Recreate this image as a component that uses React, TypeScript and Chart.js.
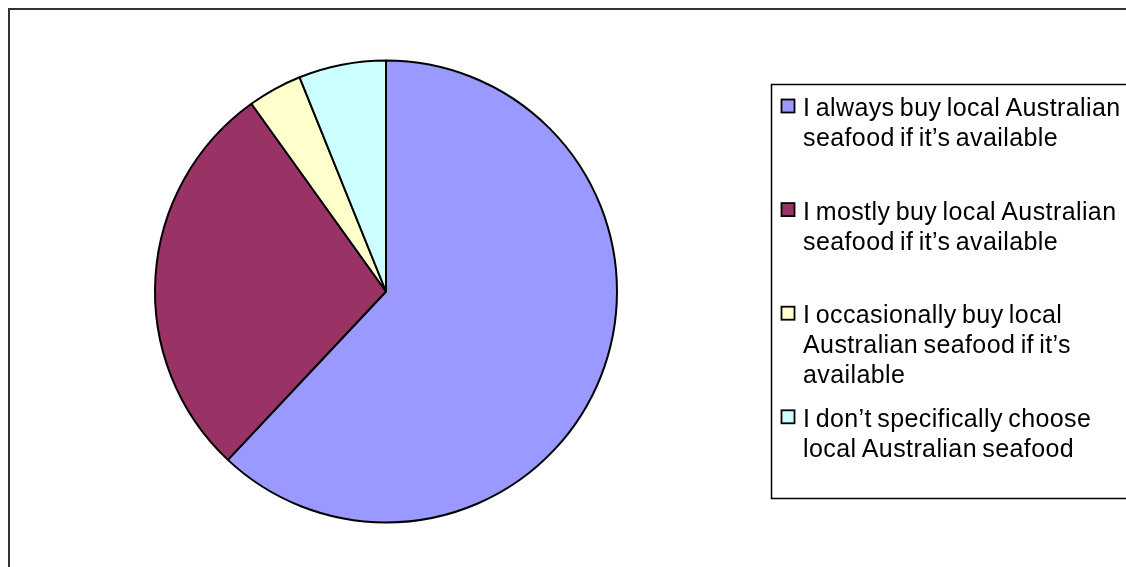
import React, { useEffect, useRef } from "react";
import { Chart, registerables } from "chart.js";

Chart.register(...registerables);

const categories = [
  "I always buy local Australian seafood if it’s available",
  "I mostly buy local Australian seafood if it’s available",
  "I occasionally buy local Australian seafood if it’s available",
  "I don’t specifically choose local Australian seafood",
];
const legendLines = [
  ["I always buy local Australian", "seafood if it’s available"],
  ["I mostly buy local Australian", "seafood if it’s available"],
  ["I occasionally buy local", "Australian seafood if it’s", "available"],
  ["I don’t specifically choose", "local Australian seafood"],
];
const values = [62.0, 28.1, 3.8, 6.1];
const colors = ["#9999FF", "#993366", "#FFFFCC", "#CCFFFF"];

const W = 1126;
const H = 567;

const framePlugin = {
  id: "frame",
  beforeDraw(chart: any) {
    const ctx = chart.ctx as CanvasRenderingContext2D;
    ctx.save();
    ctx.fillStyle = "#ffffff";
    ctx.fillRect(0, 0, chart.width, chart.height);
    // outer chart border
    ctx.strokeStyle = "#333333";
    ctx.lineWidth = 2;
    ctx.beginPath();
    ctx.moveTo(9, chart.height + 5);
    ctx.lineTo(9, 9);
    ctx.lineTo(chart.width + 5, 9);
    ctx.stroke();
    // legend box
    ctx.strokeStyle = "#000000";
    ctx.lineWidth = 1.5;
    ctx.strokeRect(771.5, 84.5, 420, 414);
    ctx.restore();
  },
  afterDraw(chart: any) {
    const ctx = chart.ctx as CanvasRenderingContext2D;
    const bg = chart.data.datasets[0].backgroundColor as string[];
    ctx.save();
    ctx.font = '25px "Liberation Sans", Arial, sans-serif';
    (ctx as any).letterSpacing = "0.4px";
    (ctx as any).wordSpacing = "-2px";
    ctx.fillStyle = "#000000";
    ctx.textBaseline = "alphabetic";
    ctx.textAlign = "left";
    const slot = 103.6;
    legendLines.forEach((lines, i) => {
      const base = 84 + i * slot + 32;
      // marker
      ctx.fillStyle = bg[i];
      ctx.fillRect(781.5, base - 16.5, 13, 13);
      ctx.strokeStyle = "#000000";
      ctx.lineWidth = 1.8;
      ctx.strokeRect(781.5, base - 16.5, 13, 13);
      ctx.fillStyle = "#000000";
      lines.forEach((t, j) => {
        ctx.fillText(t, 803, base + j * 30);
      });
    });
    ctx.restore();
  },
};

export default function App() {
  const ref = useRef<HTMLCanvasElement | null>(null);
  useEffect(() => {
    if (!ref.current) return;
    const chart = new Chart(ref.current, {
      type: "pie",
      data: {
        labels: categories,
        datasets: [
          {
            data: values,
            backgroundColor: colors,
            borderColor: "#000000",
            borderWidth: 2,
          },
        ],
      },
      options: {
        animation: false,
        responsive: false,
        devicePixelRatio: 1,
        layout: { padding: { left: 154, right: 508, top: 59.5, bottom: 43.5 } },
        plugins: {
          legend: { display: false },
          tooltip: { enabled: false },
          title: { display: false },
        },
      },
      plugins: [framePlugin],
    });
    return () => chart.destroy();
  }, []);
  return (
    <div style={{ position: "absolute", left: 0, top: 0, width: W, height: H, background: "#fff" }}>
      <canvas ref={ref} width={W} height={H} style={{ display: "block", width: W, height: H }} />
    </div>
  );
}
